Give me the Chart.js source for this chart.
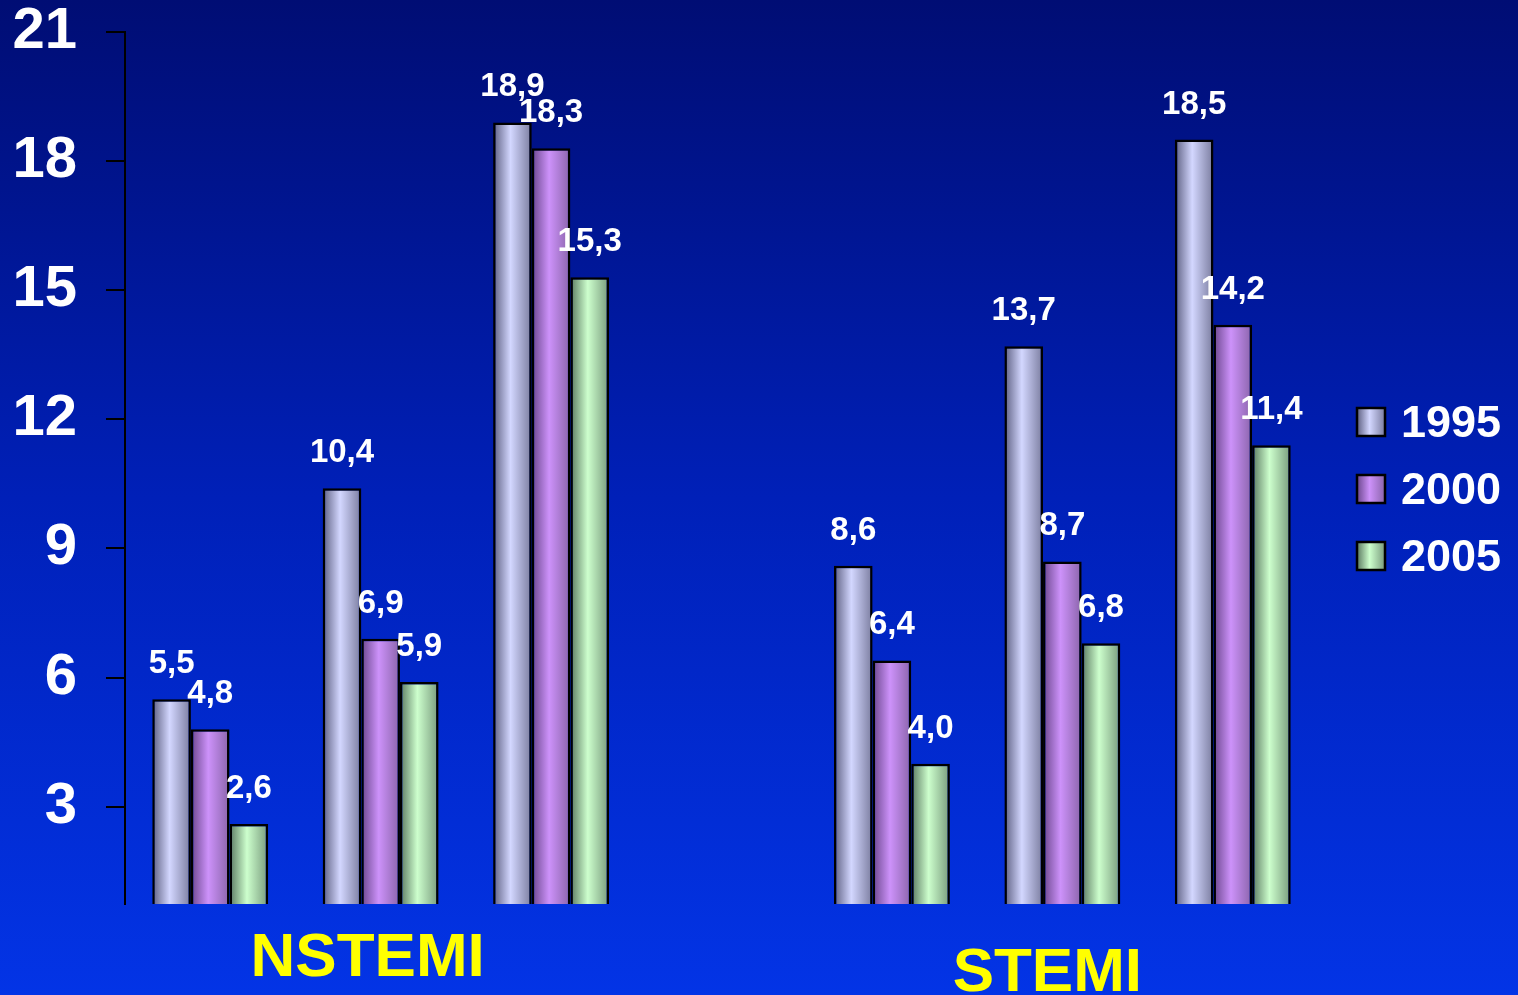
<!DOCTYPE html>
<html>
<head>
<meta charset="utf-8">
<title>NSTEMI / STEMI</title>
<script src="https://cdn.jsdelivr.net/npm/chart.js@4/dist/chart.umd.min.js"></script>
<style>
  html, body { margin: 0; padding: 0; overflow: hidden; background: #0022b0; }
  #wrap { position: relative; width: 1518px; height: 995px; }
</style>
</head>
<body>
<div id="wrap"><canvas id="chart"></canvas></div>
<script>
// Category slots: three NSTEMI groups, an empty spacer, three STEMI groups
const categories = ['1', '2', '3', '', '1', '2', '3'];
const groupTitles = ['NSTEMI', 'STEMI'];
const seriesNames = ['1995', '2000', '2005'];
const values1995 = [5.5, 10.4, 18.9, null, 8.6, 13.7, 18.5];
const values2000 = [4.8, 6.9, 18.3, null, 6.4, 8.7, 14.2];
const values2005 = [2.6, 5.9, 15.3, null, 4.0, 6.8, 11.4];
const yTicks = [3, 6, 9, 12, 15, 18, 21];

const FONT = "'Liberation Sans', Arial, sans-serif";

// Horizontal "cylinder" shading for each series: dark edge, light core, dark edge
const shades = [
  ['#5c5e80', '#d3d7ff', '#7a7c9e'],
  ['#6a468c', '#cd92fa', '#8a64aa'],
  ['#5a7860', '#cdffcd', '#789a7c']
];

function shadeGradient(ctx, x0, x1, stops) {
  const g = ctx.createLinearGradient(x0, 0, x1, 0);
  g.addColorStop(0, stops[0]);
  g.addColorStop(0.45, stops[1]);
  g.addColorStop(1, stops[2]);
  return g;
}

const CAT_PCT = 0.68;

// Gradient spanning the bar's own horizontal extent
function barFill(seriesIndex) {
  return function (c) {
    const chart = c.chart;
    const xs = chart.scales && chart.scales.x;
    if (!xs || c.dataIndex === undefined) return shades[seriesIndex][1];
    const catW = xs.width / categories.length;
    const center = xs.getPixelForValue(c.dataIndex);
    if (!isFinite(catW) || !isFinite(center) || catW <= 0) return shades[seriesIndex][1];
    const bw = catW * CAT_PCT / seriesNames.length;
    const left = center - catW * CAT_PCT / 2 + seriesIndex * bw;
    return shadeGradient(chart.ctx, left, left + bw, shades[seriesIndex]);
  };
}

const backgroundPlugin = {
  id: 'bgFill',
  beforeDraw(chart) {
    const { ctx, width, height } = chart;
    const g = ctx.createLinearGradient(0, 0, 0, height);
    g.addColorStop(0, '#000d74');
    g.addColorStop(0.5, '#0020b8');
    g.addColorStop(1, '#0334e6');
    ctx.save();
    ctx.fillStyle = g;
    ctx.fillRect(0, 0, width, height);
    ctx.restore();
  }
};

// Value labels above each bar, decimal comma
const valueLabelPlugin = {
  id: 'valueLabels',
  afterDatasetsDraw(chart) {
    const ctx = chart.ctx;
    ctx.save();
    ctx.font = 'bold 33px ' + FONT;
    ctx.fillStyle = '#ffffff';
    ctx.textAlign = 'center';
    ctx.textBaseline = 'alphabetic';
    chart.data.datasets.forEach((ds, di) => {
      const meta = chart.getDatasetMeta(di);
      meta.data.forEach((el, i) => {
        const v = ds.data[i];
        if (v === null || v === undefined) return;
        ctx.fillText(v.toFixed(1).replace('.', ','), el.x, el.y - 26);
      });
    });
    ctx.restore();
  }
};

// Group titles under the two blocks of bars
const groupTitlePlugin = {
  id: 'groupTitles',
  afterDraw(chart) {
    const { ctx, chartArea } = chart;
    const xs = chart.scales.x;
    ctx.save();
    ctx.font = 'bold 62px ' + FONT;
    ctx.fillStyle = '#ffff00';
    ctx.textAlign = 'center';
    ctx.textBaseline = 'alphabetic';
    ctx.fillText(groupTitles[0], xs.getPixelForValue(1) - 13, chartArea.bottom + 72);
    ctx.fillText(groupTitles[1], xs.getPixelForValue(5) - 15, chartArea.bottom + 87);
    ctx.restore();
  }
};

// Legend on the right with shaded swatches
const legendPlugin = {
  id: 'sideLegend',
  afterDraw(chart) {
    const ctx = chart.ctx;
    const boxX = 1357, box = 28, firstY = 408, step = 67;
    ctx.save();
    ctx.font = 'bold 45px ' + FONT;
    ctx.textAlign = 'left';
    ctx.textBaseline = 'alphabetic';
    seriesNames.forEach((name, i) => {
      const y = firstY + i * step;
      ctx.fillStyle = shadeGradient(ctx, boxX, boxX + box, shades[i]);
      ctx.fillRect(boxX, y, box, box);
      ctx.lineWidth = 2.5;
      ctx.strokeStyle = '#000000';
      ctx.strokeRect(boxX, y, box, box);
      ctx.fillStyle = '#ffffff';
      ctx.fillText(name, 1401, y + box + 1);
    });
    ctx.restore();
  }
};

const datasets = [values1995, values2000, values2005].map((vals, i) => ({
  label: seriesNames[i],
  data: vals,
  backgroundColor: barFill(i),
  borderColor: '#000000',
  borderWidth: 2.5,
  borderSkipped: 'start',
  categoryPercentage: CAT_PCT,
  barPercentage: 1
}));

new Chart(document.getElementById('chart'), {
  type: 'bar',
  data: { labels: categories, datasets },
  options: {
    responsive: true,
    maintainAspectRatio: false,
    animation: false,
    events: [],
    layout: { padding: { top: 32, right: 200, bottom: 0, left: 0 } },
    plugins: {
      legend: { display: false },
      tooltip: { enabled: false },
      title: { display: false }
    },
    scales: {
      x: {
        grid: { display: false },
        border: { display: false },
        ticks: { display: false },
        afterFit(scale) { scale.height = 91; }
      },
      y: {
        min: 0.74,
        max: 21,
        afterBuildTicks(scale) { scale.ticks = yTicks.map(v => ({ value: v })); },
        afterFit(scale) {
          scale.width = 125;
          scale.paddingTop = 0;
          scale.paddingBottom = 0;
        },
        grid: {
          display: true,
          drawOnChartArea: false,
          drawTicks: true,
          tickLength: 19,
          tickWidth: 2,
          tickColor: '#000000',
          color: '#000000',
          lineWidth: 2
        },
        border: { display: true, color: '#000000', width: 2 },
        ticks: {
          color: '#ffffff',
          padding: 29,
          font: { family: FONT, size: 58, weight: 'bold', lineHeight: 1 }
        }
      }
    }
  },
  plugins: [backgroundPlugin, valueLabelPlugin, groupTitlePlugin, legendPlugin]
});
</script>
</body>
</html>
